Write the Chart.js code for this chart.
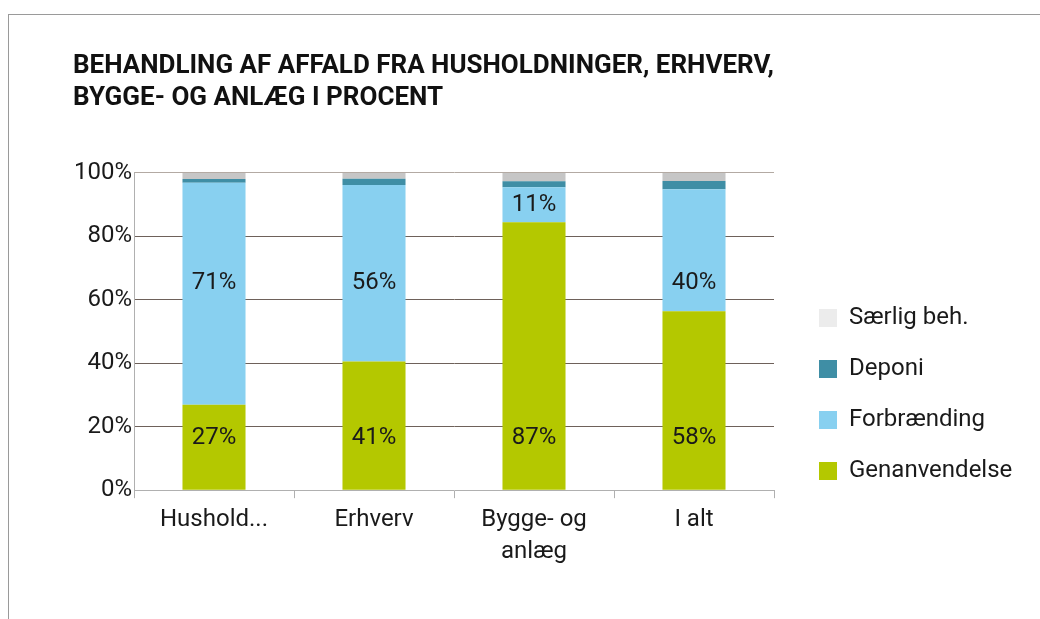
<!DOCTYPE html>
<html>
<head>
<meta charset="utf-8">
<script src="https://cdn.jsdelivr.net/npm/chart.js@4.4.1/dist/chart.umd.min.js"></script>
<style>
  html, body { margin: 0; padding: 0; background: #fff; }
  #wrap { position: relative; width: 1040px; height: 619px; overflow: hidden; }
  #frame { position: absolute; left: 8px; top: 14px; right: -2px; bottom: -2px;
           border-top: 1px solid #9a9a9a; border-left: 1px solid #9a9a9a; }
  #myChart { position: absolute; left: 0; top: 0; }
</style>
</head>
<body>
<div id="wrap">
  <div id="frame"></div>
  <canvas id="myChart" width="1040" height="619"></canvas>
</div>
<script>
// kategorier og andele (bar-hoejder aflaest i procent af hver soejle)
const kategorier = ['Hushold...', 'Erhverv', ['Bygge- og', 'anlæg'], 'I alt'];
const genanvendelse = [26.9, 40.6, 84.5, 56.4];
const forbraending = [70.0, 55.6, 11.0, 38.5];
const deponi = [1.2, 2.0, 1.9, 2.6];
const saerlig = [1.9, 1.8, 2.6, 2.5];

// tal der staar i soejlerne
const genLabels = [27, 41, 87, 58];
const forbLabels = [71, 56, 11, 40];

const yTicks = [0, 20, 40, 60, 80, 100];

const FONT = 'Roboto';
const TXT = '#1a1a1a';

// tegner procenttallene i soejlerne
const labelPlugin = {
    id: 'labelPlugin',
    afterDatasetsDraw(chart) {
        const c = chart.ctx;
        const y = chart.scales.y;
        const sets = [
            { i: 0, labels: genLabels, anchor: 16.4 },
            { i: 1, labels: forbLabels, anchor: 65.3 }
        ];
        c.save();
        c.font = '24px ' + FONT;
        c.fillStyle = TXT;
        c.textAlign = 'center';
        c.textBaseline = 'middle';
        sets.forEach(s => {
            const meta = chart.getDatasetMeta(s.i);
            meta.data.forEach((bar, j) => {
                const top = Math.min(bar.y, bar.base);
                const bot = Math.max(bar.y, bar.base);
                let py = y.getPixelForValue(s.anchor);
                if (py < top || py > bot) py = (top + bot) / 2;
                c.fillText(s.labels[j] + '%', bar.x, py);
            });
        });
        c.restore();
    }
};

// forklaring til hoejre, oeverste serie foerst
const legendPlugin = {
    id: 'legendPlugin',
    afterDraw(chart) {
        const c = chart.ctx;
        const sets = chart.data.datasets.slice().reverse();
        const x = chart.chartArea.right + 45;
        let y = 318;
        c.save();
        c.font = '24px ' + FONT;
        c.textBaseline = 'middle';
        c.textAlign = 'left';
        sets.forEach(ds => {
            c.fillStyle = ds.legendColor || ds.backgroundColor;
            c.fillRect(x, y - 9, 18, 18);
            c.fillStyle = TXT;
            c.fillText(ds.label, x + 30, y);
            y += 51;
        });
        c.restore();
    }
};

const ctx = document.getElementById('myChart').getContext('2d');

const myChart = new Chart(ctx, {
    type: 'bar',
    data: {
        labels: kategorier,
        datasets: [{
            label: 'Genanvendelse',
            data: genanvendelse,
            backgroundColor: '#b4c800'
        },
        {
            label: 'Forbrænding',
            data: forbraending,
            backgroundColor: '#88d0f0'
        },
        {
            label: 'Deponi',
            data: deponi,
            backgroundColor: '#3f8ea5'
        },
        {
            label: 'Særlig beh.',
            data: saerlig,
            backgroundColor: '#c6c6c6',
            legendColor: '#ececec'
        }]
    },
    options: {
        responsive: false,
        animation: false,
        devicePixelRatio: 1,
        categoryPercentage: 1,
        barPercentage: 0.394,
        borderWidth: 0,
        layout: { padding: { left: 73, right: 266, top: 0, bottom: 45 } },
        scales: {
            x: {
                stacked: true,
                grid: {
                    offset: true,
                    drawOnChartArea: false,
                    drawTicks: true,
                    tickLength: 8,
                    color: '#b0b0b0'
                },
                border: { display: true, color: '#b0b0b0' },
                ticks: {
                    color: TXT,
                    padding: 6,
                    font: { family: FONT, size: 24, lineHeight: 1.33 },
                    maxRotation: 0,
                    autoSkip: false
                }
            },
            y: {
                stacked: true,
                min: 0,
                max: 100,
                afterBuildTicks(s) { s.ticks = yTicks.map(v => ({ value: v })); },
                afterFit(s) { s.width = 61; },
                grid: {
                    drawTicks: false,
                    color: c => c.tick.value === 100 ? '#b3aaa3' : (c.tick.value === 0 ? 'rgba(0,0,0,0)' : '#6e615a')
                },
                border: { display: true, color: '#b0b0b0' },
                ticks: {
                    color: TXT,
                    padding: 2,
                    font: { family: FONT, size: 24 },
                    callback: v => v + '%'
                }
            }
        },
        plugins: {
            title: {
                display: true,
                text: ['BEHANDLING AF AFFALD FRA HUSHOLDNINGER, ERHVERV,', 'BYGGE- OG ANLÆG I PROCENT'],
                align: 'start',
                color: '#111',
                font: { family: FONT, size: 26, weight: 'bold', lineHeight: 1.23 },
                padding: { top: 51, bottom: 58 }
            },
            legend: { display: false },
            tooltip: { enabled: false }
        }
    },
    plugins: [labelPlugin, legendPlugin]
});
</script>
</body>
</html>
